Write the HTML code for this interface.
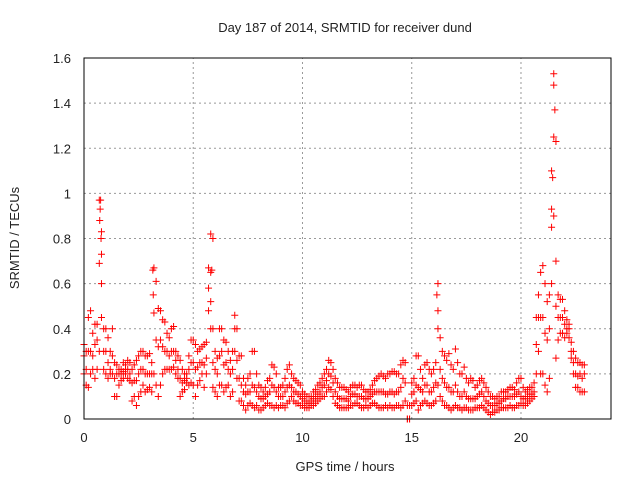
<!DOCTYPE html>
<html><head><meta charset="utf-8"><style>
body{margin:0;background:#fff}
svg text{font-family:"Liberation Sans",sans-serif;font-size:13px;fill:#222}
</style></head><body>
<svg id="c" width="640" height="480" xmlns="http://www.w3.org/2000/svg">
<rect width="640" height="480" fill="#fff"/>
<text x="345" y="32" text-anchor="middle">Day 187 of 2014, SRMTID for receiver dund</text>
<text x="345" y="471" text-anchor="middle">GPS time / hours</text>
<text transform="translate(19,238) rotate(-90)" text-anchor="middle">SRMTID / TECUs</text>
<g id="grid"></g><g id="pts"></g>
<rect x="84" y="58" width="527" height="361" fill="none" stroke="#000"/>
</svg>
<script>
const xTicks=[0,5,10,15,20];
const yTicks=[0,0.2,0.4,0.6,0.8,1,1.2,1.4,1.6];
const yTickLabels=["0","0.2","0.4","0.6","0.8","1","1.2","1.4","1.6"];
const t0=0, dt=0.1;
const hi=[0.33,0.3,0.45,0.48,0.38,0.42,0.42,0.97,0.83,0.4,
0.4,0.36,0.3,0.4,0.25,0.24,0.22,0.22,0.25,0.24,
0.26,0.25,0.22,0.24,0.26,0.28,0.3,0.3,0.28,0.28,
0.29,0.25,0.67,0.61,0.49,0.48,0.44,0.43,0.38,0.36,
0.4,0.41,0.3,0.28,0.26,0.22,0.2,0.2,0.28,0.35,
0.35,0.33,0.3,0.31,0.32,0.33,0.34,0.67,0.82,0.4,
0.3,0.27,0.4,0.4,0.35,0.34,0.3,0.26,0.3,0.46,
0.4,0.28,0.28,0.18,0.15,0.18,0.2,0.3,0.3,0.2,
0.15,0.14,0.12,0.14,0.17,0.18,0.24,0.23,0.2,0.14,
0.14,0.15,0.18,0.22,0.24,0.2,0.18,0.17,0.16,0.15,
0.12,0.11,0.1,0.1,0.1,0.12,0.13,0.15,0.16,0.18,
0.2,0.22,0.26,0.25,0.22,0.18,0.16,0.14,0.14,0.14,
0.13,0.12,0.14,0.15,0.15,0.14,0.15,0.15,0.13,0.12,
0.12,0.13,0.15,0.17,0.18,0.19,0.2,0.19,0.18,0.2,
0.2,0.21,0.21,0.2,0.2,0.24,0.26,0.25,0.06,0.06,
0.16,0.18,0.28,0.28,0.22,0.18,0.24,0.25,0.22,0.2,
0.22,0.25,0.6,0.36,0.3,0.28,0.26,0.29,0.24,0.22,
0.31,0.25,0.2,0.2,0.23,0.18,0.16,0.18,0.17,0.14,
0.15,0.17,0.18,0.16,0.14,0.12,0.1,0.1,0.09,0.1,
0.1,0.12,0.12,0.12,0.13,0.14,0.14,0.13,0.16,0.18,
0.18,0.14,0.12,0.13,0.14,0.14,0.16,0.45,0.55,0.65,
0.68,0.6,0.52,0.55,1.1,1.53,0.7,0.55,0.53,0.53,
0.48,0.44,0.42,0.34,0.3,0.27,0.25,0.25,0.24,0.24];
const lo=[0.2,0.15,0.14,0.2,0.22,0.18,0.22,0.3,0.45,0.22,
0.2,0.18,0.2,0.2,0.1,0.1,0.15,0.17,0.18,0.2,
0.18,0.17,0.08,0.1,0.06,0.1,0.12,0.15,0.12,0.13,
0.14,0.12,0.2,0.15,0.1,0.15,0.2,0.22,0.22,0.22,
0.22,0.23,0.2,0.18,0.1,0.12,0.13,0.16,0.15,0.16,
0.15,0.1,0.15,0.17,0.2,0.14,0.2,0.48,0.4,0.14,
0.12,0.1,0.15,0.15,0.12,0.14,0.15,0.1,0.12,0.3,
0.18,0.08,0.08,0.06,0.04,0.06,0.07,0.06,0.05,0.06,
0.04,0.04,0.05,0.06,0.07,0.06,0.06,0.05,0.06,0.05,
0.06,0.06,0.05,0.07,0.08,0.1,0.08,0.07,0.07,0.06,
0.06,0.05,0.05,0.05,0.06,0.06,0.07,0.08,0.09,0.1,
0.1,0.12,0.14,0.13,0.1,0.07,0.06,0.05,0.05,0.05,
0.05,0.05,0.06,0.06,0.07,0.07,0.06,0.05,0.05,0.06,
0.05,0.06,0.07,0.07,0.06,0.05,0.05,0.05,0.06,0.05,
0.06,0.05,0.05,0.06,0.06,0.05,0.06,0.08,0.0,0.0,
0.06,0.07,0.08,0.04,0.06,0.07,0.08,0.07,0.06,0.06,
0.07,0.08,0.15,0.1,0.08,0.06,0.06,0.05,0.04,0.05,
0.06,0.05,0.05,0.04,0.05,0.05,0.04,0.04,0.04,0.05,
0.05,0.05,0.06,0.05,0.04,0.03,0.02,0.03,0.03,0.04,
0.04,0.05,0.05,0.05,0.05,0.06,0.05,0.05,0.06,0.06,
0.07,0.06,0.06,0.07,0.08,0.09,0.1,0.2,0.3,0.2,
0.2,0.15,0.12,0.18,0.6,0.9,0.27,0.35,0.38,0.38,
0.36,0.38,0.36,0.27,0.2,0.14,0.14,0.12,0.12,0.12];
const mid=[0.28,0.22,0.3,0.3,0.28,0.33,0.35,0.69,0.6,0.3,
0.3,0.25,0.22,0.28,0.18,0.2,0.2,0.2,0.21,0.22,
0.22,0.2,0.16,0.17,0.17,0.2,0.22,0.22,0.2,0.2,
0.2,0.2,0.47,0.35,0.32,0.35,0.32,0.3,0.3,0.28,
0.3,0.3,0.26,0.22,0.18,0.16,0.17,0.18,0.22,0.25,
0.25,0.22,0.23,0.25,0.25,0.24,0.27,0.58,0.65,0.25,
0.22,0.2,0.28,0.3,0.24,0.25,0.22,0.2,0.22,0.4,
0.26,0.18,0.15,0.12,0.11,0.12,0.12,0.15,0.14,0.12,
0.1,0.09,0.09,0.1,0.11,0.12,0.15,0.14,0.12,0.1,
0.1,0.1,0.12,0.14,0.15,0.14,0.12,0.12,0.11,0.1,
0.09,0.08,0.07,0.07,0.08,0.09,0.1,0.11,0.12,0.14,
0.15,0.17,0.2,0.19,0.16,0.12,0.1,0.09,0.09,0.09,
0.09,0.08,0.1,0.11,0.11,0.1,0.1,0.1,0.09,0.09,
0.09,0.1,0.11,0.12,0.12,0.12,0.12,0.12,0.11,0.11,
0.12,0.12,0.11,0.12,0.12,0.14,0.18,0.16,0.0,0.0,
0.11,0.12,0.15,0.14,0.13,0.12,0.15,0.15,0.12,0.12,
0.14,0.16,0.4,0.22,0.18,0.16,0.14,0.14,0.12,0.12,
0.15,0.12,0.1,0.1,0.12,0.1,0.09,0.09,0.09,0.09,
0.1,0.11,0.12,0.1,0.08,0.07,0.06,0.06,0.06,0.07,
0.07,0.08,0.09,0.09,0.1,0.1,0.1,0.1,0.11,0.12,
0.1,0.09,0.09,0.1,0.11,0.11,0.12,0.33,0.45,0.45,
0.45,0.38,0.35,0.4,0.85,1.25,0.5,0.45,0.45,0.45,
0.42,0.4,0.4,0.3,0.25,0.2,0.19,0.2,0.18,0.2];
const spikeT=[0.72,0.74,0.76,0.78,0.8,3.15,3.17,5.8,5.85,5.9,16.15,16.2,21.4,21.45,21.5,21.55,21.6];
const spikeV=[0.88,0.93,0.97,0.8,0.73,0.66,0.55,0.52,0.66,0.8,0.55,0.48,0.93,1.07,1.48,1.37,1.23];
const X0=84,X1=611,Y0=419,Y1=58,XMAX=24.12,YMAX=1.6;
const sx=v=>X0+v/XMAX*(X1-X0), sy=v=>Y0-v/YMAX*(Y0-Y1);
const NS="http://www.w3.org/2000/svg";
const grid=document.getElementById('grid'), pts=document.getElementById('pts');
function mk(tag,attrs,parent){const e=document.createElementNS(NS,tag);for(const k in attrs)e.setAttribute(k,attrs[k]);parent.appendChild(e);return e;}
xTicks.forEach(v=>{
  const g=mk('line',{x1:sx(v),x2:sx(v),y1:Y0,y2:Y1,stroke:'#999','stroke-dasharray':'2,3'},grid);
  
  
  const t=mk('text',{x:sx(v),y:442,'text-anchor':'middle'},grid);t.textContent=v;
  
  
});
yTicks.forEach((v,i)=>{
  const g=mk('line',{x1:X0,x2:X1,y1:sy(v),y2:sy(v),stroke:'#999','stroke-dasharray':'2,3'},grid);
  
  
  const t=mk('text',{x:71,y:sy(v)+5,'text-anchor':'end'},grid);t.textContent=yTickLabels[i];
  
  
});
function plus(t,v){
  const x=sx(t),y=sy(v);
  const p=mk('path',{d:`M${x-3.5},${y}H${x+3.5}M${x},${y-3.5}V${y+3.5}`,stroke:'#f00','stroke-width':1,fill:'none'},pts);
  
  
}
[lo,mid,hi].forEach(arr=>arr.forEach((v,i)=>plus(t0+i*dt,v)));
spikeT.forEach((t,i)=>plus(t,spikeV[i]));
</script>
</body></html>
